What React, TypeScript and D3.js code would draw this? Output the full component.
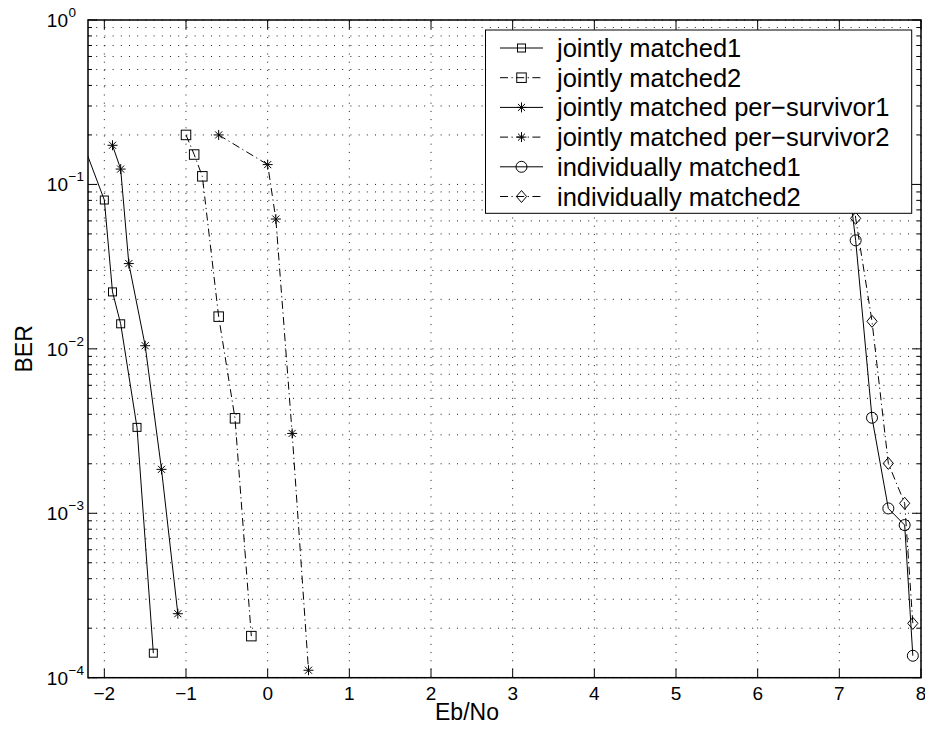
import React from 'react';
import * as d3 from 'd3';

// ---- data ----
const xTickValues = [-2, -1, 0, 1, 2, 3, 4, 5, 6, 7, 8];
const yTickExponents = [0, -1, -2, -3, -4];

const seriesNames = [
  'jointly matched1',
  'jointly matched2',
  'jointly matched per\u2212survivor1',
  'jointly matched per\u2212survivor2',
  'individually matched1',
  'individually matched2',
];

const jm1X = [-2.3, -2.0, -1.9, -1.8, -1.6, -1.4];
const jm1Y = [0.2, 0.0804, 0.0222, 0.0142, 0.00333, 0.000141];

const jm2X = [-1.0, -0.9, -0.8, -0.6, -0.4, -0.2];
const jm2Y = [0.2, 0.152, 0.112, 0.0157, 0.00378, 0.000179];

const jmps1X = [-1.9, -1.8, -1.7, -1.5, -1.3, -1.1];
const jmps1Y = [0.173, 0.124, 0.033, 0.01045, 0.00185, 0.000245];

const jmps2X = [-0.6, 0.0, 0.1, 0.3, 0.5];
const jmps2Y = [0.2, 0.132, 0.0616, 0.00306, 0.000111];

const im1X = [7.0, 7.2, 7.4, 7.6, 7.8, 7.9];
const im1Y = [0.3, 0.0457, 0.00381, 0.00107, 0.000848, 0.000136];

const im2X = [7.1, 7.2, 7.4, 7.6, 7.8, 7.9];
const im2Y = [0.25, 0.0622, 0.0147, 0.00201, 0.00115, 0.000214];

const FONT = '"Liberation Sans", Arial, Helvetica, sans-serif';
const DASHDOT = '8,3.5,1.2,3.5';

type MarkerType = 'square' | 'asterisk' | 'circle' | 'diamond';

function Marker({ type, cx, cy, size }: { type: MarkerType; cx: number; cy: number; size: number }) {
  const h = size / 2;
  const common = { fill: 'none', stroke: '#000', strokeWidth: 1 };
  if (type === 'square') {
    return <rect x={cx - h} y={cy - h} width={size} height={size} {...common} />;
  }
  if (type === 'circle') {
    return <circle cx={cx} cy={cy} r={h} {...common} />;
  }
  if (type === 'diamond') {
    const hw = h * 0.85;
    return <path d={`M${cx},${cy - h}L${cx + hw},${cy}L${cx},${cy + h}L${cx - hw},${cy}Z`} {...common} />;
  }
  const d = h * 0.707;
  return (
    <path
      d={`M${cx},${cy - h}V${cy + h}M${cx - h},${cy}H${cx + h}M${cx - d},${cy - d}L${cx + d},${cy + d}M${cx - d},${cy + d}L${cx + d},${cy - d}`}
      {...common}
    />
  );
}

export default function App() {
  const W = 925;
  const H = 730;
  const L = 88;
  const R = 921;
  const T = 20;
  const B = 677.7;

  const x = d3.scaleLinear().domain([-2.2, 8]).range([L, R]);
  const y = d3.scaleLog().domain([1e-4, 1]).range([B, T]);

  const series = [
    { xs: jm1X, ys: jm1Y, marker: 'square' as MarkerType, size: 8, dash: undefined as string | undefined },
    { xs: jm2X, ys: jm2Y, marker: 'square' as MarkerType, size: 9.5, dash: DASHDOT },
    { xs: jmps1X, ys: jmps1Y, marker: 'asterisk' as MarkerType, size: 10, dash: undefined },
    { xs: jmps2X, ys: jmps2Y, marker: 'asterisk' as MarkerType, size: 10, dash: DASHDOT },
    { xs: im1X, ys: im1Y, marker: 'circle' as MarkerType, size: 11, dash: undefined },
    { xs: im2X, ys: im2Y, marker: 'diamond' as MarkerType, size: 12, dash: DASHDOT },
  ];

  const line = d3
    .line<[number, number]>()
    .x((d) => x(d[0]))
    .y((d) => y(d[1]));

  const yMajor = yTickExponents.map((e) => Math.pow(10, e));
  const yMinor: number[] = [];
  for (let e = -4; e < 0; e++) for (let k = 2; k <= 9; k++) yMinor.push(k * Math.pow(10, e));

  const majorLen = 9;
  const minorLen = 4;

  const legendX0 = 485.5;
  const legendX1 = 911.7;
  const legendY0 = 30;
  const legendY1 = 213.3;
  const legendRow0 = 48;
  const legendRowStep = 29.7;

  return (
    <svg
      width={W}
      height={H}
      style={{ position: 'absolute', left: 0, top: 0, background: '#fff' }}
      fontFamily={FONT}
    >
      <rect x={0} y={0} width={W} height={H} fill="#fff" />
      <defs>
        <clipPath id="plotclip">
          <rect x={L} y={T} width={R - L} height={B - T} />
        </clipPath>
      </defs>

      {/* grid */}
      <g stroke="#000" strokeWidth={0.9} strokeDasharray="1,7.2" fill="none">
        {xTickValues.map((v) => (
          <line key={'gx' + v} x1={x(v)} x2={x(v)} y1={B} y2={T} />
        ))}
        {[...yMajor, ...yMinor].map((v, i) => (
          <line key={'gy' + i} x1={L} x2={R} y1={y(v)} y2={y(v)} />
        ))}
      </g>

      {/* series */}
      <g clipPath="url(#plotclip)">
        {series.map((s, i) => {
          const pts = s.xs.map((xv, j) => [xv, s.ys[j]] as [number, number]);
          return (
            <g key={'s' + i}>
              <path d={line(pts) || ''} fill="none" stroke="#000" strokeWidth={1} strokeDasharray={s.dash} />
              {pts.map((p, j) => (
                <Marker key={j} type={s.marker} cx={x(p[0])} cy={y(p[1])} size={s.size} />
              ))}
            </g>
          );
        })}
      </g>

      {/* axes box and ticks */}
      <g stroke="#000" fill="none">
        <rect x={L} y={T} width={R - L} height={B - T} strokeWidth={1.5} />
        {xTickValues.map((v) => (
          <g key={'xt' + v} strokeWidth={1}>
            <line x1={x(v)} x2={x(v)} y1={B} y2={B - majorLen} />
            <line x1={x(v)} x2={x(v)} y1={T} y2={T + majorLen} />
          </g>
        ))}
        {yMajor.map((v, i) => (
          <g key={'yt' + i} strokeWidth={1}>
            <line x1={L} x2={L + majorLen} y1={y(v)} y2={y(v)} />
            <line x1={R} x2={R - majorLen} y1={y(v)} y2={y(v)} />
          </g>
        ))}
        {yMinor.map((v, i) => (
          <g key={'ym' + i} strokeWidth={1}>
            <line x1={L} x2={L + minorLen} y1={y(v)} y2={y(v)} />
            <line x1={R} x2={R - minorLen} y1={y(v)} y2={y(v)} />
          </g>
        ))}
      </g>

      {/* x tick labels */}
      <g fontSize={19} fill="#000" textAnchor="middle">
        {xTickValues.map((v) => (
          <text key={'xl' + v} x={x(v)} y={B + 22}>
            {v < 0 ? '\u2212' + Math.abs(v) : String(v)}
          </text>
        ))}
      </g>

      {/* y tick labels */}
      <g fill="#000">
        {yTickExponents.map((e) => {
          const yy = y(Math.pow(10, e));
          return (
            <g key={'yl' + e}>
              <text x={68} y={yy + 6.8} fontSize={19} textAnchor="end">
                10
              </text>
              <text x={68.5} y={yy - 3} fontSize={13.5} textAnchor="start">
                {e < 0 ? '\u2212' + Math.abs(e) : String(e)}
              </text>
            </g>
          );
        })}
      </g>

      {/* axis labels */}
      <text x={467} y={720} fontSize={23} textAnchor="middle" fill="#000">
        Eb/No
      </text>
      <text
        x={0}
        y={0}
        fontSize={23}
        textAnchor="middle"
        fill="#000"
        transform={`translate(32,${(T + B) / 2}) rotate(-90)`}
      >
        BER
      </text>

      {/* legend */}
      <g>
        <rect
          x={legendX0}
          y={legendY0}
          width={legendX1 - legendX0}
          height={legendY1 - legendY0}
          fill="#fff"
          stroke="#000"
          strokeWidth={1}
        />
        {series.map((s, i) => {
          const ly = legendRow0 + i * legendRowStep;
          return (
            <g key={'lg' + i}>
              <line x1={500} x2={543} y1={ly} y2={ly} stroke="#000" strokeWidth={1} strokeDasharray={s.dash} />
              <Marker type={s.marker} cx={521.5} cy={ly} size={s.size} />
              <text x={557} y={ly + 9} fontSize={25.5} fill="#000">
                {seriesNames[i]}
              </text>
            </g>
          );
        })}
      </g>
    </svg>
  );
}
